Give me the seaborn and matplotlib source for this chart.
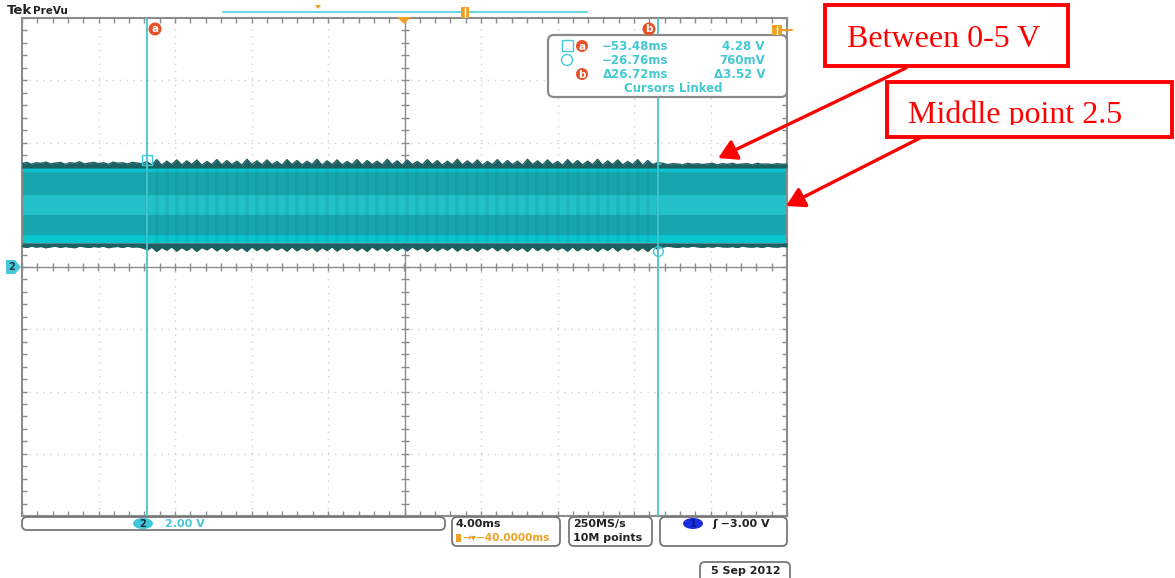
import numpy as np
import matplotlib
matplotlib.use("Agg")
import matplotlib.pyplot as plt
import seaborn as sns
import pandas as pd
from matplotlib.patches import FancyBboxPatch, Rectangle, Polygon, Ellipse
from matplotlib.transforms import Bbox, TransformedBbox

# ---------------- data ----------------
time_range_ms = [-60.0, -20.0]          # 4.00 ms/div, delay -40 ms
volt_range_v = [-8.0, 8.0]              # 2.00 V/div, ground at centre
cursor_a_ms = -53.48
cursor_b_ms = -26.76
cursor_a_v = 3.44
cursor_b_v = 0.52
section_bounds_ms = [-60.0, -53.48, -26.76, -20.0]

top_left = [3.32, 3.36, 3.30, 3.35, 3.33, 3.37, 3.31, 3.34, 3.36, 3.30, 3.35, 3.33, 3.38, 3.31,
            3.34, 3.36, 3.32, 3.35, 3.30, 3.37, 3.33, 3.35, 3.31, 3.36, 3.34, 3.32, 3.36]
bot_left = [0.66, 0.63, 0.67, 0.64, 0.66, 0.62, 0.65, 0.67, 0.63, 0.66, 0.64, 0.62, 0.67, 0.65,
            0.63, 0.66, 0.64, 0.67, 0.62, 0.65, 0.66, 0.63, 0.67, 0.64, 0.65, 0.62, 0.60]
top_mid = [3.42, 3.28, 3.45, 3.27, 3.40, 3.29, 3.44, 3.28, 3.41, 3.29, 3.44, 3.27, 3.39, 3.29,
           3.45, 3.28, 3.42, 3.29, 3.40, 3.27, 3.46, 3.29, 3.41, 3.28, 3.44, 3.29, 3.39, 3.27,
           3.45, 3.29, 3.42, 3.28, 3.40, 3.29, 3.46, 3.27, 3.41, 3.29, 3.44, 3.28, 3.39, 3.29,
           3.45, 3.27, 3.42, 3.29, 3.40, 3.28, 3.46, 3.29, 3.41, 3.27, 3.44, 3.29, 3.39, 3.28,
           3.45, 3.29, 3.42, 3.27, 3.40, 3.29, 3.46, 3.28, 3.41, 3.29, 3.44, 3.27, 3.39, 3.29,
           3.45, 3.28, 3.42, 3.29, 3.40, 3.27, 3.46, 3.29, 3.41, 3.28, 3.44, 3.29, 3.39, 3.27,
           3.45, 3.29, 3.42, 3.28, 3.40, 3.29, 3.46, 3.27, 3.41, 3.29, 3.44, 3.28, 3.39, 3.29,
           3.45, 3.27, 3.42, 3.29, 3.40]
bot_mid = [0.52, 0.64, 0.50, 0.63, 0.54, 0.65, 0.51, 0.63, 0.53, 0.64, 0.50, 0.63, 0.55, 0.65,
           0.52, 0.63, 0.51, 0.64, 0.54, 0.63, 0.50, 0.65, 0.53, 0.63, 0.52, 0.64, 0.55, 0.63,
           0.51, 0.65, 0.52, 0.63, 0.54, 0.64, 0.50, 0.63, 0.53, 0.65, 0.51, 0.63, 0.55, 0.64,
           0.52, 0.63, 0.50, 0.65, 0.54, 0.63, 0.51, 0.64, 0.53, 0.63, 0.52, 0.65, 0.55, 0.63,
           0.50, 0.64, 0.52, 0.63, 0.54, 0.65, 0.51, 0.63, 0.53, 0.64, 0.50, 0.63, 0.55, 0.65,
           0.52, 0.63, 0.51, 0.64, 0.54, 0.63, 0.50, 0.65, 0.53, 0.63, 0.52, 0.64, 0.55, 0.63,
           0.51, 0.65, 0.52, 0.63, 0.54, 0.64, 0.50, 0.63, 0.53, 0.65, 0.51, 0.63, 0.55, 0.64,
           0.52, 0.63, 0.50, 0.65, 0.54]
top_right = [3.30, 3.33, 3.29, 3.32, 3.31, 3.28, 3.33, 3.30, 3.32, 3.29, 3.31, 3.33, 3.28, 3.32,
             3.30, 3.33, 3.29, 3.31, 3.32, 3.28, 3.33, 3.30, 3.31, 3.29, 3.32, 3.30, 3.31]
bot_right = [0.66, 0.64, 0.67, 0.65, 0.63, 0.66, 0.64, 0.67, 0.65, 0.63, 0.66, 0.64, 0.67, 0.65,
             0.64, 0.66, 0.63, 0.67, 0.65, 0.64, 0.66, 0.63, 0.67, 0.65, 0.64, 0.66, 0.65]

# intensity stripes inside the band (volts)
stripe_low = [0.78, 1.03, 1.67, 2.31, 3.05]
stripe_high = [1.03, 1.67, 2.31, 3.05, 3.18]

readout_times = ["\u221253.48ms", "\u221226.76ms", "\u039426.72ms"]
readout_volts = ["4.28 V", "760mV", "\u03943.52 V"]

# ---------------- styling ----------------
W, H = 1175, 578
sns.set_style("white")
plt.rcParams["font.family"] = ["DejaVu Sans"]

CYAN = "#44c8d2"
BRIGHT = "#08c6cf"
MEDIUM = "#17a6ae"
LIGHT = "#22c0c8"
DARK = "#1d6062"
ORANGE = "#f0a020"
ORED = "#e5522a"
GRIDC = "#d2d2d2"
AXC = "#8c8c8c"
stripe_colors = [BRIGHT, MEDIUM, LIGHT, MEDIUM, BRIGHT]

fig = plt.figure(figsize=(W / 100, H / 100), dpi=100)
fig.patch.set_facecolor("white")

ax = fig.add_axes([22 / W, 1 - 516 / H, 765 / W, 498 / H])
ax.set_xlim(*time_range_ms)
ax.set_ylim(*volt_range_v)

# grid
xmaj = np.arange(time_range_ms[0], time_range_ms[1] + 0.01, 4.0)
ymaj = np.arange(volt_range_v[0], volt_range_v[1] + 0.01, 2.0)
xmin = np.arange(time_range_ms[0], time_range_ms[1] + 0.01, 0.8)
ymin = np.arange(volt_range_v[0], volt_range_v[1] + 0.01, 0.4)
for xv in xmaj[1:-1]:
    if abs(xv + 40) > 1e-6:
        ax.axvline(xv, color=GRIDC, lw=1.0, ls=(0, (1, 4)), zorder=0)
for yv in ymaj[1:-1]:
    if abs(yv) > 1e-6:
        ax.axhline(yv, color=GRIDC, lw=1.0, ls=(0, (1, 4)), zorder=0)
ax.axvline(-40, color=AXC, lw=1.0, zorder=1)
ax.axhline(0, color=AXC, lw=1.0, zorder=1)
ax.plot(xmin, np.zeros_like(xmin), ls="none", marker="|", ms=6, mew=1.0, color=AXC, zorder=1)
ax.plot(np.full_like(ymin, -40.0), ymin, ls="none", marker="_", ms=6, mew=1.0, color=AXC, zorder=1)

ax.set_xticks(xmaj)
ax.set_yticks(ymaj)
ax.set_xticks(xmin, minor=True)
ax.set_yticks(ymin, minor=True)
ax.tick_params(which="both", direction="in", length=3.5, width=1, color=AXC,
               top=True, right=True, bottom=True, left=True,
               labelbottom=False, labelleft=False)
for sp in ax.spines.values():
    sp.set_color(AXC)
    sp.set_linewidth(1.5)

# waveform band
t_left = np.linspace(section_bounds_ms[0], section_bounds_ms[1], len(top_left))
t_mid = np.linspace(section_bounds_ms[1], section_bounds_ms[2], len(top_mid))
t_right = np.linspace(section_bounds_ms[2], section_bounds_ms[3], len(top_right))
t_all = np.concatenate([t_left, t_mid, t_right])
top_all = np.concatenate([top_left, top_mid, top_right])
bot_all = np.concatenate([bot_left, bot_mid, bot_right])

for lo, hi, c in zip(stripe_low, stripe_high, stripe_colors):
    ax.fill_between(time_range_ms, [lo, lo], [hi, hi], color=c, lw=0, zorder=2)
ax.fill_between(t_all, stripe_high[-1], top_all, color=DARK, lw=0, zorder=3)
ax.fill_between(t_all, bot_all, stripe_low[0], color=DARK, lw=0, zorder=3)
# column texture in the middle section
ax.vlines(t_mid[::2], stripe_low[0], stripe_high[-1], color="#0b6f76", alpha=0.13, lw=2.6, zorder=3)

df = pd.DataFrame({"t": t_all, "top": top_all, "bot": bot_all})
sns.lineplot(data=df, x="t", y="top", ax=ax, color=DARK, lw=1.0, zorder=4, legend=False)
sns.lineplot(data=df, x="t", y="bot", ax=ax, color=DARK, lw=1.0, zorder=4, legend=False)
ax.set_xlabel("")
ax.set_ylabel("")

# cursors
ax.axvline(cursor_a_ms, color=CYAN, lw=1.3, zorder=5)
ax.axvline(cursor_b_ms, color=CYAN, lw=1.3, zorder=5)
ax.plot([cursor_a_ms], [cursor_a_v], marker="s", ms=7, mfc="none", mec=CYAN, mew=1.0, zorder=6)
ax.plot([cursor_b_ms], [cursor_b_v], marker="o", ms=7, mfc="none", mec=CYAN, mew=1.0, zorder=6)

# ---------------- overlay in pixel coordinates ----------------
ov = fig.add_axes([0, 0, 1, 1], zorder=10)
ov.set_xlim(0, W)
ov.set_ylim(H, 0)
ov.axis("off")
ov.patch.set_alpha(0)


def rbox(x0, y0, x1, y1, ec="#777777", lw=1.3, r=5):
    ov.add_patch(FancyBboxPatch((x0, y0), x1 - x0, y1 - y0,
                                boxstyle=f"round,pad=0,rounding_size={r}",
                                fc="white", ec=ec, lw=lw, zorder=1))


def badge(x, y, letter, fc=ORED, tc="white", w=13, h=13):
    ov.add_patch(Ellipse((x, y), w, h, fc=fc, ec="none", zorder=3))
    ov.text(x, y + 0.5, letter, color=tc, fontsize=7.5, fontweight="bold",
            ha="center", va="center", zorder=4)


# header
ov.text(7, 14, "Tek", fontsize=9.5, fontweight="bold", color="#222222", va="baseline")
ov.text(33, 14, "PreVu", fontsize=7.5, fontweight="bold", color="#222222", va="baseline")
ov.plot([223, 587], [12, 12], color="#6ad8e0", lw=1.5, zorder=2)
ov.add_patch(Polygon([[315, 5], [321, 5], [318, 9]], closed=True, fc=ORANGE, ec="none"))
ov.add_patch(Rectangle((461, 7), 8, 11, fc=ORANGE, ec="none", zorder=3))
ov.plot([465, 465], [8, 17], color="white", lw=1, zorder=4)
ov.add_patch(Polygon([[397, 17], [411, 17], [404, 24]], closed=True, fc=ORANGE, ec="none", zorder=3))
badge(155, 29, "a")
badge(649, 29, "b")
ov.add_patch(Rectangle((772, 25), 10, 10, fc=ORANGE, ec="none", zorder=3))
ov.plot([782, 792], [30, 30], color=ORANGE, lw=1.5, zorder=3)
ov.plot([777, 777], [26, 34], color="white", lw=1, zorder=4)

# channel 2 ground marker
ov.add_patch(Polygon([[6, 260], [15, 260], [21, 267], [15, 274], [6, 274]], closed=True,
                     fc="#48c8d8", ec="none", zorder=3))
ov.text(12, 267.5, "2", fontsize=7, fontweight="bold", color="#1a3a50", ha="center", va="center", zorder=4)

# readout box
rbox(548, 35, 787, 97, ec="#8a8a8a", lw=1.6, r=6)
ov.add_patch(Rectangle((562, 40), 11, 11, fc="none", ec=CYAN, lw=1.0, zorder=3))
ov.add_patch(Ellipse((567, 60), 11, 11, fc="none", ec=CYAN, lw=1.0, zorder=3))
badge(582, 46, "a", w=12, h=12)
badge(582, 74, "b", w=12, h=12)
for i, (tt, vv) in enumerate(zip(readout_times, readout_volts)):
    yy = 46 + 14 * i
    ov.text(668, yy, tt, color=CYAN, fontsize=8.5, fontweight="bold", ha="right", va="center", zorder=3)
    ov.text(765, yy, vv, color=CYAN, fontsize=8.5, fontweight="bold", ha="right", va="center", zorder=3)
ov.text(673, 88, "Cursors Linked", color=CYAN, fontsize=8.5, fontweight="bold", ha="center", va="center", zorder=3)

# bottom status boxes
SF = 8
rbox(22, 517, 445, 530, r=5)
ov.add_patch(Ellipse((143, 523.5), 20, 11, fc="#3cc8d8", ec="none", zorder=3))
ov.text(143, 524, "2", fontsize=7, fontweight="bold", color="#1a2a3a", ha="center", va="center", zorder=4)
ov.text(165, 524, "2.00 V", fontsize=SF, fontweight="bold", color=CYAN, va="center", zorder=3)

rbox(452, 517, 560, 546, r=5)
ov.text(456, 524, "4.00ms", fontsize=SF, fontweight="bold", color="#222222", va="center", zorder=3)
ov.add_patch(Rectangle((456, 534), 5, 8, fc=ORANGE, ec="none", zorder=3))
ov.text(462, 538, "\u2192\u25be\u221240.0000ms", fontsize=7.5, fontweight="bold", color=ORANGE,
        va="center", zorder=3)

rbox(569, 517, 652, 546, r=5)
ov.text(573, 524, "250MS/s", fontsize=SF, fontweight="bold", color="#222222", va="center", zorder=3)
ov.text(573, 538, "10M points", fontsize=SF, fontweight="bold", color="#222222", va="center", zorder=3)

rbox(660, 517, 787, 546, r=5)
ov.add_patch(Ellipse((693, 523.5), 20, 11, fc="#1a2ee0", ec="none", zorder=3))
ov.text(693, 524, "1", fontsize=7, fontweight="bold", color="#0a1a90", ha="center", va="center", zorder=4)
ov.text(712, 524, "\u0283 \u22123.00 V", fontsize=SF, fontweight="bold", color="#222222", va="center", zorder=3)

rbox(700, 562, 790, 585, r=5)
ov.text(711, 571, "5 Sep 2012", fontsize=SF, fontweight="bold", color="#222222", va="center", zorder=3)

# red annotation boxes
ov.add_patch(Rectangle((825, 5), 243, 61, fc="white", ec="#ff0000", lw=2.8, zorder=2))
ov.text(847, 47, "Between 0-5 V", family="Liberation Serif", fontsize=23, color="#ff0000",
        va="baseline", zorder=3)
ov.add_patch(Rectangle((887, 82), 285, 55, fc="white", ec="#ff0000", lw=2.8, zorder=2))
mt = ov.text(908, 123, "Middle point 2.5", family="Liberation Serif", fontsize=23, color="#ff0000",
             va="baseline", zorder=3)
mt.set_clip_box(TransformedBbox(Bbox([[887, 82], [1172, 125]]), ov.transData))
mt.set_clip_on(True)

# arrows pointing at the waveform (heads in data coordinates)
arrow_kw = dict(arrowstyle="-|>,head_length=0.55,head_width=0.32", color="#ff0000", lw=2.4,
                shrinkA=0, shrinkB=0, mutation_scale=20)
ax.annotate("", xy=(-23.6, 3.50), xycoords="data", xytext=(906, 68), textcoords=ov.transData,
            arrowprops=arrow_kw, annotation_clip=False, zorder=20)
ax.annotate("", xy=(-20.05, 1.96), xycoords="data", xytext=(922, 137), textcoords=ov.transData,
            arrowprops=arrow_kw, annotation_clip=False, zorder=20)

fig.savefig("out.png", dpi=100, facecolor="white")
